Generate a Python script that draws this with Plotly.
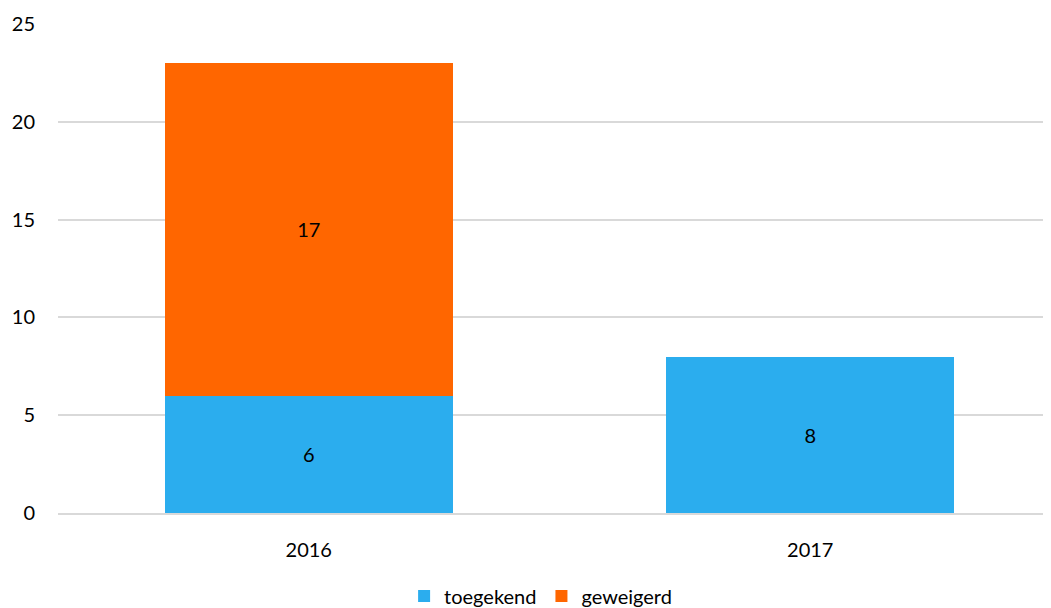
import plotly.graph_objects as go

years = ["2016", "2017"]
toegekend = [6, 8]
geweigerd = [17, None]
y_ticks = [0, 5, 10, 15, 20, 25]

font_family = "Lato, Open Sans, sans-serif"

fig = go.Figure()
fig.add_trace(go.Bar(
    x=years, y=toegekend, name="toegekend",
    marker=dict(color="#2BADEE", line=dict(width=0)),
    text=[str(v) for v in toegekend], textposition="inside",
    insidetextanchor="middle",
    textfont=dict(color="black", size=20, family=font_family),
))
fig.add_trace(go.Bar(
    x=years, y=geweigerd, name="geweigerd",
    marker=dict(color="#FF6600", line=dict(width=0)),
    text=[str(v) if v is not None else "" for v in geweigerd], textposition="inside",
    insidetextanchor="middle",
    textfont=dict(color="black", size=20, family=font_family),
))

fig.update_layout(
    barmode="stack",
    bargap=0.4266,
    width=1043, height=600,
    margin=dict(l=50, r=0, t=16, b=95, autoexpand=False),
    plot_bgcolor="white", paper_bgcolor="white",
    font=dict(family=font_family, size=20, color="black"),
    legend=dict(orientation="h", x=0.486, xanchor="center", yref="container",
                y=0.02, yanchor="middle",
                font=dict(size=20), itemwidth=30, traceorder="normal"),
    yaxis=dict(range=[0, 25], tickvals=y_ticks, showgrid=True, gridcolor="#D9D9D9",
               gridwidth=1.5, zeroline=False, showline=False, ticks="",
               ticklabelstandoff=22, fixedrange=True, automargin=False),
    xaxis=dict(range=[-0.5, 1.48], showline=True, linecolor="#D9D9D9", linewidth=2, ticks="",
               ticklabelstandoff=18, fixedrange=True, automargin=False),
)

fig.write_html("out.html")
